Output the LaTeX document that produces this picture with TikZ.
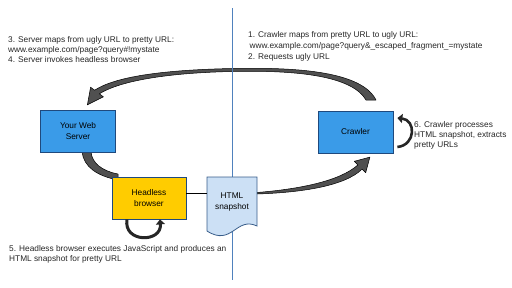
\documentclass[tikz,border=0pt]{standalone}
\usepackage{fontspec}
\setmainfont{Liberation Sans}
\usetikzlibrary{arrows.meta}

\definecolor{webblue}{RGB}{58,155,232}
\definecolor{boxline}{RGB}{31,73,125}
\definecolor{headyellow}{RGB}{255,204,0}
\definecolor{snapfill}{RGB}{204,224,245}
\definecolor{snapline}{RGB}{56,93,138}
\definecolor{divider}{RGB}{79,129,189}
\definecolor{arrowgray}{RGB}{80,80,80}

\begin{document}
\begin{tikzpicture}[x=1pt, y=-1pt,
    box/.style={draw=boxline, line width=0.8pt, minimum width=75pt, minimum height=42pt,
        align=center, font=\fontsize{8.3}{10.5}\selectfont},
    note/.style={anchor=north west, align=left, inner sep=0pt,
        font=\fontsize{8.3}{10.2}\selectfont, text=black!85},
    fatarrow/.style={fill=arrowgray, draw=black, line width=0.5pt, line join=round},
    looparrow/.style={draw=black!85, line width=3pt, -{Triangle[length=5pt,width=9pt]}}]

    \useasboundingbox (0,0) rectangle (512,287);

    % --- big arrow: crawler -> server ---
    \path[fatarrow] (376,100) .. controls (362,72) and (300,67) .. (232,68.5)
        .. controls (160,70) and (115,77) .. (94.6,90.2) -- (90.6,87.2) -- (87.4,104.8)
        -- (103.4,96.8) -- (99.4,93.8) .. controls (118,82) and (162,73) .. (232,71.5)
        .. controls (298,70) and (352,76) .. (366,100) -- cycle;

    % --- divider ---
    \draw[divider, line width=0.9pt] (232,8) -- (232,280);

    % --- server -> headless browser ---
    \path[fatarrow] (82,152) .. controls (84,167) and (97,176) .. (118,180)
        -- (118,174) .. controls (102,171) and (92,163) .. (91,152) -- cycle;

    % --- snapshot -> crawler ---
    \path[fatarrow] (257,192.5) .. controls (300,189) and (340,181) .. (357.9,164.9)
        -- (354.3,161.3) -- (369.9,157.1) -- (365.7,172.7) -- (362.1,169.1)
        .. controls (345,186) and (302,192.5) .. (257,194) -- cycle;

    % --- boxes ---
    \node[box, fill=webblue] (server) at (78,131) {Your Web\\Server};
    \node[box, fill=webblue] (crawler) at (355.5,132) {Crawler};
    \node[box, fill=headyellow, minimum width=74pt] (headless) at (149,198) {Headless\\browser};

    % HTML snapshot (document shape)
    \draw[snapline, fill=snapfill, line width=0.8pt] (207,177) -- (257,177) -- (257,226)
        .. controls (236,216) and (232,247) .. (207,231) -- cycle;
    \node[align=center, font=\fontsize{8.3}{10.5}\selectfont, minimum width=50pt,
        minimum height=36pt] (snapshot) at (232,202) {HTML\\snapshot};

    \draw[line width=0.8pt] ([yshift=5pt]headless.east) -- ([yshift=5pt]headless.east -| snapshot.west);

    % --- loops ---
    \draw[looparrow] ([xshift=-22pt]headless.south) .. controls (123,243) and (162,243) .. ([xshift=11pt]headless.south);
    \draw[looparrow, line width=2.6pt] ([xshift=4pt,yshift=-15pt]crawler.east) .. controls (416,145) and (416,120) .. ([xshift=4pt,yshift=14pt]crawler.east);

    % --- notes ---
    \node[note] (step3) at (8,36) {3. Server maps from ugly URL to pretty URL:\\
        www.example.com/page?query\#!mystate\\4. Server invokes headless browser};
    \node[note] (step1) at (248,31) {1. Crawler maps from pretty URL to ugly URL:\\[1.5pt]
        \hspace{1.5pt}www.example.com/page?query\&\_escaped\_fragment\_=mystate\\2. Requests ugly URL};
    \node[note] (step6) at (414,121) {6. Crawler processes\\HTML snapshot, extracts\\pretty URLs};
    \node[note] (step5) at (9,245) {5. Headless browser executes JavaScript and produces an\\
        HTML snapshot for pretty URL};
\end{tikzpicture}
\end{document}
